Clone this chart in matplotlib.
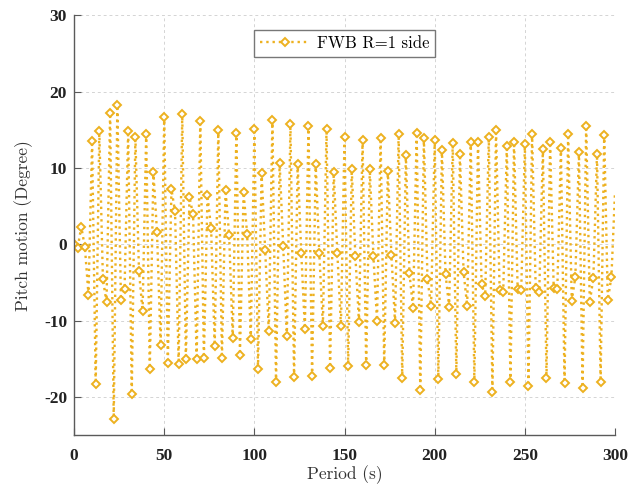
"""Pitch motion time history, FWB R=1 side (dotted + diamonds, MATLAB look)."""
import matplotlib
matplotlib.use("Agg")
import matplotlib.pyplot as plt
import numpy as np

period_s = np.arange(0, 301, 2)
pitch_deg = [
    0.0, -0.5, 2.3, -0.4, -6.6,        # 0
    13.5, -18.3, 14.8, -4.6, -7.6,     # 10
    17.2, -22.9, 18.2, -7.3, -5.9,     # 20
    14.8, -19.6, 14.1, -3.5, -8.8,     # 30
    14.4, -16.3, 9.5, 1.6, -13.2,      # 40
    16.7, -15.6, 7.2, 4.3, -15.7,      # 50
    17.0, -15.1, 6.2, 3.9, -15.1,      # 60
    16.2, -14.9, 6.4, 2.1, -13.3,      # 70
    15.0, -14.9, 7.1, 1.2, -12.3,      # 80
    14.6, -14.5, 6.8, 1.3, -12.4,      # 90
    15.1, -16.3, 9.3, -0.8, -11.4,     # 100
    16.3, -18.1, 10.7, -0.3, -12.0,    # 110
    15.7, -17.4, 10.5, -1.1, -11.1,    # 120
    15.5, -17.3, 10.5, -1.2, -10.7,    # 130
    15.1, -16.2, 9.4, -1.1, -10.7,     # 140
    14.1, -16.0, 9.8, -1.5, -10.2,     # 150
    13.6, -15.8, 9.8, -1.5, -10.0,     # 160
    13.9, -15.8, 9.6, -1.4, -10.3,     # 170
    14.4, -17.5, 11.7, -3.8, -8.4,     # 180
    14.6, -19.1, 13.9, -4.6, -8.1,     # 190
    13.6, -17.6, 12.4, -3.9, -8.2,     # 200
    13.3, -17.0, 11.8, -3.6, -8.1,     # 210
    13.4, -18.0, 13.4, -5.2, -6.8,     # 220
    14.1, -19.4, 15.0, -6.0, -6.3,     # 230
    12.9, -18.0, 13.4, -5.9, -6.0,     # 240
    13.1, -18.6, 14.5, -5.7, -6.2,     # 250
    12.5, -17.5, 13.4, -5.8, -5.9,     # 260
    12.6, -18.2, 14.4, -7.4, -4.3,     # 270
    12.1, -18.8, 15.5, -7.6, -4.4,     # 280
    11.8, -18.0, 14.3, -7.3, -4.3,     # 290
    6.9,                               # 300
]
series_label = "FWB R=1 side"
x_ticks = [0, 50, 100, 150, 200, 250, 300]
y_ticks = [-20, -10, 0, 10, 20, 30]

LINE_C = "#EDB120"
AXIS_C = "#5a5a5a"
LABEL_FONT = "cmr10"
TICK_FONT = "Liberation Serif"

fig = plt.figure(figsize=(6.44, 4.91), dpi=100)
ax = fig.add_axes([0.115, 0.114, 0.840, 0.855])

ax.plot(period_s, pitch_deg, ls=":", lw=1.7, color=LINE_C,
        marker="D", ms=3.6, mew=1.4, mfc="white", mec=LINE_C,
        markevery=slice(0, len(pitch_deg) - 1), label=series_label)

ax.set_xlim(0, 300)
ax.set_ylim(-25, 30)
ax.set_xticks(x_ticks)
ax.set_yticks(y_ticks)
ax.set_xticklabels([f"{t:d}" for t in x_ticks])
ax.set_yticklabels([f"{t:d}" for t in y_ticks])

ax.grid(True, ls=(0, (3, 3)), lw=0.7, color="#d4d4d4")
ax.set_axisbelow(True)
for side in ("top", "right"):
    ax.spines[side].set_visible(False)
for side in ("left", "bottom"):
    ax.spines[side].set_color(AXIS_C)
    ax.spines[side].set_linewidth(1.0)

ax.tick_params(axis="both", direction="in", length=5, width=0.8,
               color=AXIS_C, labelcolor="#222222")
ax.tick_params(axis="x", pad=9)
ax.tick_params(axis="y", pad=5)
for lab in ax.get_xticklabels() + ax.get_yticklabels():
    lab.set_fontfamily(TICK_FONT)
    lab.set_fontweight("bold")
    lab.set_fontsize(12.5)

ax.set_xlabel("Period (s)", fontfamily=LABEL_FONT, fontsize=12.5,
              color="#333333", labelpad=1)
ax.set_ylabel("Pitch motion (Degree)", fontfamily=LABEL_FONT, fontsize=12.5,
              color="#333333", labelpad=8)

leg = ax.legend(loc="upper center", bbox_to_anchor=(0.5, 0.985),
                prop={"family": LABEL_FONT, "size": 12},
                handlelength=3.0, fancybox=False, framealpha=1,
                edgecolor="#777777", borderpad=0.35, handletextpad=0.4)
leg.get_frame().set_linewidth(1.0)

fig.savefig("out.png", dpi=100)
